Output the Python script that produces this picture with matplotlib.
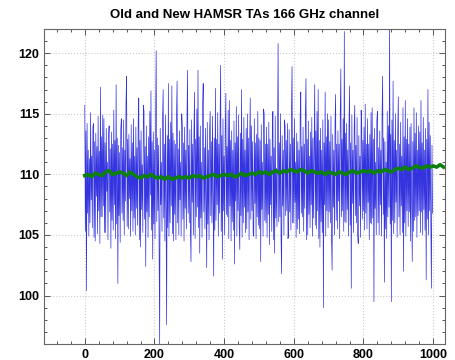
import numpy as np
import matplotlib
matplotlib.use("Agg")
import matplotlib.pyplot as plt
from matplotlib.ticker import MultipleLocator

title = "Old and New HAMSR TAs 166 GHz channel"

# Old TAs (blue), one sample every 5/3 scan units from 0 to ~998
old_x_step = 5.0 / 3.0
old_ta = [
    115.7, 105.3, 113.6, 100.4, 114.2, 106.8, 112.0, 104.9, 111.3, 106.0, 115.1, 107.9, 111.5, 105.6, 113.9,
    114.2, 104.8, 112.7, 104.5, 113.4, 108.2, 112.3, 105.1, 114.8, 107.0, 111.9, 104.3, 117.2, 106.5, 113.1,
    106.5, 114.9, 107.4, 114.6, 105.2, 112.6, 105.2, 113.8, 108.6, 111.0, 104.6, 113.2, 114.0, 106.9, 112.1,
    103.9, 113.5, 106.2, 112.5, 105.4, 115.3, 107.5, 112.8, 104.7, 117.4, 105.9, 113.0, 101.0, 112.4, 106.6,
    111.8, 104.4, 113.7, 114.6, 106.8, 112.2, 106.2, 114.5, 105.0, 112.0, 107.8, 115.9, 118.1, 105.7, 112.9,
    105.5, 113.3, 108.0, 111.3, 104.9, 114.1, 107.0, 112.6, 105.3, 114.6, 106.4, 111.5, 105.0, 113.9, 107.2,
    112.2, 105.8, 114.4, 116.3, 104.6, 112.8, 104.0, 113.6, 107.1, 110.8, 105.2, 115.7, 115.2, 106.3, 112.3,
    102.4, 114.0, 106.9, 111.5, 104.8, 113.1, 106.5, 115.2, 108.3, 116.9, 105.4, 112.7, 103.0, 113.5, 105.9,
    112.0, 104.7, 114.3, 120.2, 106.1, 113.0, 107.0, 112.4, 104.2, 96.0, 113.8, 107.5, 111.0, 105.3, 114.6,
    117.0, 106.4, 112.5, 104.5, 114.9, 107.8, 97.6, 113.2, 105.6, 117.5, 104.9, 112.9, 106.0, 114.3, 107.4,
    117.3, 105.1, 113.4, 104.5, 112.8, 106.7, 112.5, 104.6, 114.7, 117.7, 106.0, 112.1, 105.0, 113.6, 107.9,
    111.0, 104.9, 115.0, 114.0, 106.3, 112.6, 104.5, 113.9, 107.2, 112.0, 105.5, 114.2, 118.6, 106.8, 112.4,
    106.0, 113.7, 105.2, 102.8, 114.5, 107.7, 112.5, 105.0, 113.3, 116.8, 104.7, 112.9, 106.5, 115.4, 107.3,
    118.6, 105.6, 113.1, 103.5, 114.0, 106.4, 111.0, 104.8, 115.6, 117.5, 106.9, 112.2, 105.5, 113.8, 107.6,
    102.3, 114.3, 105.9, 112.0, 104.6, 113.5, 115.2, 106.6, 112.7, 106.0, 114.8, 107.9, 101.6, 113.0, 105.4,
    117.1, 106.2, 112.9, 107.5, 115.1, 104.9, 112.5, 106.8, 114.1, 119.0, 105.3, 113.2, 103.0, 114.6, 107.0,
    111.5, 105.0, 113.8, 116.7, 106.7, 112.3, 106.5, 115.3, 104.7, 116.1, 107.4, 112.8, 104.5, 113.6, 106.1,
    112.0, 105.4, 114.4, 102.6, 112.6, 107.8, 115.6, 104.9, 113.1, 107.0, 114.9, 105.7, 103.8, 113.4, 106.6,
    117.0, 104.8, 112.9, 106.0, 114.7, 107.3, 112.0, 105.2, 113.8, 105.5, 115.0, 106.9, 113.0, 104.6, 112.4,
    116.3, 106.3, 114.0, 107.0, 112.7, 105.1, 104.9, 114.6, 107.6, 112.6, 104.7, 113.3, 106.5, 115.2, 105.8,
    113.0, 105.5, 112.8, 102.8, 114.1, 107.1, 111.0, 104.9, 115.4, 115.0, 106.2, 112.5, 106.0, 113.9, 104.8,
    112.5, 106.7, 114.3, 104.2, 112.9, 107.5, 111.5, 105.3, 113.6, 115.2, 104.6, 112.2, 103.5, 114.8, 106.4,
    110.5, 105.7, 113.5, 120.8, 106.1, 112.6, 106.5, 115.0, 104.9, 101.8, 113.2, 107.4, 112.0, 105.0, 114.5,
    114.0, 106.6, 112.8, 107.0, 114.2, 104.7, 105.0, 113.7, 106.9, 112.5, 105.4, 115.3, 118.9, 106.0, 113.0,
    106.0, 114.6, 107.7, 111.0, 104.8, 113.4, 105.5, 112.7, 106.3, 112.0, 105.1, 114.9, 116.8, 106.8, 112.3,
    106.5, 113.9, 105.3, 112.5, 107.2, 115.1, 117.9, 104.6, 112.9, 105.0, 114.4, 106.7, 111.5, 105.6, 113.5,
    107.5, 114.7, 104.9, 113.0, 106.4, 112.4, 117.4, 105.8, 113.6, 105.5, 115.2, 107.0, 117.0, 104.7, 112.8,
    104.0, 113.8, 106.1, 112.0, 105.2, 114.5, 99.0, 112.6, 107.5, 116.8, 104.9, 113.1, 107.0, 115.0, 105.6,
    114.5, 106.9, 112.7, 106.0, 114.8, 104.6, 102.1, 113.3, 107.3, 112.0, 105.0, 114.1, 116.6, 106.2, 112.5,
    105.5, 113.6, 107.8, 112.5, 104.7, 115.0, 118.7, 106.5, 112.9, 107.0, 114.6, 105.3, 121.8, 106.1, 113.4,
    106.0, 114.2, 107.1, 112.0, 104.9, 113.7, 117.3, 105.8, 112.6, 100.6, 114.9, 107.6, 112.0, 105.2, 113.9,
    115.7, 106.6, 112.4, 106.0, 114.7, 105.1, 104.3, 113.2, 107.4, 111.5, 104.8, 115.3, 114.0, 106.3, 112.8,
    107.0, 113.9, 105.4, 115.8, 106.8, 112.5, 105.5, 114.6, 107.7, 112.5, 104.6, 113.3, 106.0, 115.1, 105.9,
    115.5, 106.4, 112.9, 99.5, 113.8, 107.2, 111.0, 105.0, 114.4, 115.2, 106.0, 112.2, 105.0, 113.6, 107.5,
    112.0, 104.9, 114.8, 118.1, 106.7, 113.0, 101.1, 112.7, 105.5, 111.0, 104.7, 115.2, 106.5, 114.0, 107.3,
    122.5, 105.9, 113.3, 99.5, 114.5, 106.2, 117.7, 105.1, 112.8, 106.0, 115.0, 107.7, 112.0, 104.8, 113.7,
    116.4, 106.5, 112.5, 105.0, 114.3, 107.4, 111.5, 105.2, 115.5, 102.0, 113.1, 106.0, 116.1, 104.9, 112.9,
    107.0, 114.6, 105.7, 112.5, 106.9, 113.9, 104.5, 114.2, 107.6, 102.8, 112.7, 105.3, 115.5, 106.2, 113.4,
    106.5, 115.1, 104.8, 112.0, 106.6, 114.0, 107.0, 113.5, 105.2, 116.1, 106.9, 112.6, 105.0, 114.7, 107.1,
    112.0, 105.4, 113.8, 101.3, 112.9, 106.3, 117.0, 105.0, 114.3, 107.0, 113.2, 105.8, 100.6, 112.4, 106.8,
]

# New TAs (green), sampled every 10 scan units from 0 to 1030
new_x_step = 10
new_ta = [
    109.9, 110.0, 109.8, 110.1, 110.0, 109.9, 110.2, 110.3, 110.0, 110.1,
    110.2, 110.1, 109.9, 110.2, 110.0, 109.8, 109.7, 109.9, 109.8, 110.0,
    109.8, 109.7, 109.8, 109.6, 109.8, 109.6, 109.7, 109.8, 109.7, 109.8,
    109.7, 109.9, 109.8, 109.9, 109.7, 109.8, 109.9, 110.0, 109.8, 109.9,
    110.0, 109.9, 110.0, 109.8, 109.9, 110.1, 109.9, 110.0, 110.1, 110.0,
    110.2, 110.1, 110.2, 110.0, 110.2, 110.3, 110.1, 110.3, 110.2, 110.4,
    110.3, 110.2, 110.4, 110.3, 110.1, 110.3, 110.2, 110.1, 110.2, 110.0,
    110.2, 110.1, 110.0, 110.2, 110.1, 110.0, 110.2, 110.3, 110.1, 110.2,
    110.3, 110.2, 110.3, 110.1, 110.3, 110.2, 110.4, 110.3, 110.2, 110.4,
    110.5, 110.4, 110.6, 110.4, 110.5, 110.7, 110.6, 110.5, 110.7, 110.6,
    110.7, 110.6, 110.8, 110.6,
]

old_x = np.arange(len(old_ta)) * old_x_step
new_x = np.arange(len(new_ta)) * new_x_step

plt.rcParams['font.family'] = ['Liberation Sans', 'DejaVu Sans']

fig = plt.figure(figsize=(4.55, 3.6), dpi=100)
ax = fig.add_axes([44/455, 16/360, 401/455, 315/360])

ax.plot(old_x, old_ta, color=(0.0, 0.0, 0.85), alpha=0.8, linewidth=0.5, zorder=2)
ax.plot(new_x, new_ta, color=(0.05, 0.5, 0.05), linewidth=2.6, zorder=3)

ax.set_xlim(-117, 1034)
ax.set_ylim(96, 122)
ax.xaxis.set_major_locator(MultipleLocator(200))
ax.xaxis.set_minor_locator(MultipleLocator(40))
ax.yaxis.set_major_locator(MultipleLocator(5))
ax.yaxis.set_minor_locator(MultipleLocator(1))
ax.tick_params(which='both', direction='in', top=True, right=True, colors='#555555',
               labelcolor='black', labelsize=9, width=0.7)
ax.tick_params(which='major', length=4)
ax.tick_params(which='minor', length=2)
for lab in ax.get_xticklabels() + ax.get_yticklabels():
    lab.set_fontweight('bold')
ax.grid(True, which='major', color='#cccccc', linestyle=':', linewidth=0.8, zorder=0)
for s in ax.spines.values():
    s.set_color('#666666')
    s.set_linewidth(0.8)

ax.set_title(title, fontsize=9.5, fontweight='bold', pad=8)

fig.savefig("out.png", dpi=100)
